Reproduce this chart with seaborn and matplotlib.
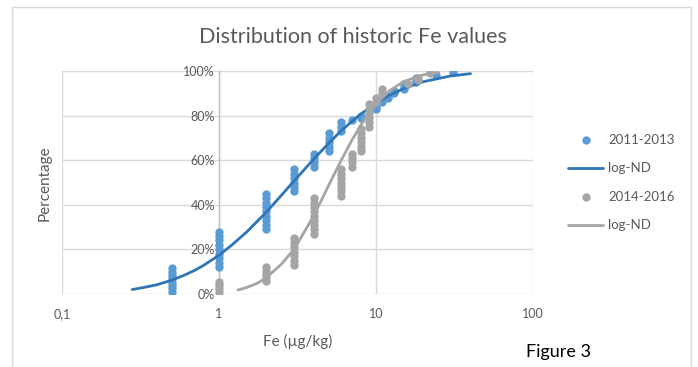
import matplotlib
matplotlib.use("Agg")
import matplotlib.pyplot as plt
import seaborn as sns
import pandas as pd
from matplotlib.patches import Rectangle

# measured values, 2011-2013 (Fe in ug/kg, cumulative %)
fe_1113 = ([0.5] * 8 + [1] * 9 + [2] * 9 + [3] * 6 + [4] * 4 + [5] * 5 + [6] * 3
           + [7] + [8] * 2 + [10] * 3 + [11] * 2 + [12] * 2 + [13] * 2 + [15] * 3
           + [18] * 3 + [24] + [31])
pct_1113 = [1, 2.5, 4, 5.5, 7, 8.5, 10, 11.5,
            12, 14, 16, 18, 20, 22, 24, 26, 28,
            29, 31, 33, 35, 37, 39, 41, 43, 45,
            46, 48, 50, 52, 54, 56,
            57, 59, 61, 63,
            64, 66, 68, 70, 72,
            73, 75, 77,
            78,
            79, 80,
            83, 84, 85,
            86, 87,
            88, 89,
            90, 91,
            92, 93, 94,
            95, 96, 97,
            98,
            99.5]

# measured values, 2014-2016
fe_1416 = ([1] * 4 + [2] * 5 + [3] * 7 + [4] * 9 + [6] * 7 + [7] * 4 + [8] * 6
           + [9] * 6 + [10] * 2 + [11] * 2 + [16] + [18.5] * 2 + [22])
pct_1416 = [1, 2.5, 4, 5.5,
            6, 7.5, 9, 10.5, 12,
            13, 15, 17, 19, 21, 23, 25,
            27, 29, 31, 33, 35, 37, 39, 41, 43,
            44, 46, 48, 50, 52, 54, 56,
            57, 59, 61, 63,
            64, 66, 68, 70, 72, 74,
            75, 77, 79, 81, 83, 85,
            86, 88,
            90, 92,
            94,
            96, 97,
            99]

# fitted log-normal curves
fit_x_1113 = [0.28, 0.33, 0.4, 0.5, 0.6, 0.7, 0.8, 1, 1.2, 1.5, 2, 2.5, 3, 4,
              5, 6, 7, 8, 10, 12, 15, 20, 30, 40]
fit_y_1113 = [2.0, 2.9, 4.1, 6.2, 8.4, 10.6, 12.9, 17.4, 21.8, 27.8, 36.7,
              44.3, 50.6, 60.4, 67.6, 73.2, 77.3, 80.7, 85.5, 88.9, 92.1,
              95.2, 97.8, 98.8]
fit_x_1416 = [1.32, 1.5, 1.75, 2, 2.5, 3, 3.5, 4, 4.5, 5, 6, 7, 8, 9, 10, 12,
              15, 20, 25]
fit_y_1416 = [1.8, 2.9, 4.8, 7.3, 13.4, 20, 27.9, 35, 42.2, 48.8, 59.9, 68.8,
              75.7, 81, 85.1, 90.8, 95.3, 98.3, 99.3]

x_ticks = [0.1, 1, 10, 100]
x_tick_labels = ["0,1", "1", "10", "100"]
y_ticks = [0, 20, 40, 60, 80, 100]

BLUE = "#5B9BD5"
BLUE_LINE = "#2E75B6"
GREY = "#A5A5A5"
TXT = "#595959"

sns.set_theme(style="white")
plt.rcParams["font.family"] = ["Lato", "DejaVu Sans"]

fig = plt.figure(figsize=(6.98, 3.67), dpi=100)
fig.patches.append(Rectangle((12 / 698, -0.05), 679 / 698, 1 - 7 / 367 + 0.05,
                             transform=fig.transFigure, fill=False,
                             edgecolor="#D9D9D9", lw=1, zorder=0))
ax = fig.add_axes([62 / 698, 73 / 367, 471 / 698, 223 / 367])

pts1 = pd.DataFrame({"fe": fe_1113, "pct": pct_1113})
pts2 = pd.DataFrame({"fe": fe_1416, "pct": pct_1416})
fit1 = pd.DataFrame({"fe": fit_x_1113, "pct": fit_y_1113})
fit2 = pd.DataFrame({"fe": fit_x_1416, "pct": fit_y_1416})

sns.scatterplot(data=pts1, x="fe", y="pct", color=BLUE, s=36, linewidth=0,
                ax=ax, label="2011-2013", zorder=3)
sns.lineplot(data=fit1, x="fe", y="pct", color=BLUE_LINE, lw=2, ax=ax,
             label="log-ND", zorder=4, sort=True)
sns.scatterplot(data=pts2, x="fe", y="pct", color=GREY, s=36, linewidth=0,
                ax=ax, label="2014-2016", zorder=5)
sns.lineplot(data=fit2, x="fe", y="pct", color=GREY, lw=2, ax=ax,
             label="log-ND", zorder=6, sort=True)

ax.set_xscale("log")
ax.set_xlim(0.1, 100)
ax.set_ylim(0, 100)
ax.set_xticks(x_ticks)
ax.set_xticklabels(x_tick_labels)
ax.minorticks_off()
ax.set_yticks(y_ticks)
ax.set_yticklabels([f"{v}%" for v in y_ticks])

for s in ["top", "right", "bottom"]:
    ax.spines[s].set_visible(False)
ax.spines["left"].set_position(("data", 1))
ax.spines["left"].set_color("#BFBFBF")
ax.spines["left"].set_linewidth(1)
ax.grid(True, color="#D9D9D9", lw=1)
ax.set_axisbelow(True)
ax.tick_params(axis="both", length=0, labelsize=9, labelcolor=TXT)
ax.tick_params(axis="x", pad=10)
ax.tick_params(axis="y", pad=3)

ax.set_xlabel("Fe (µg/kg)", fontsize=11, color=TXT, labelpad=10)
ax.set_ylabel("")
fig.text(45 / 698, 1 - 183 / 367, "Percentage", rotation=90, fontsize=11,
         color=TXT, ha="center", va="center")
fig.text(353 / 698, 1 - 37 / 367, "Distribution of historic Fe values",
         fontsize=15.5, color=TXT, ha="center", va="center")
fig.text(558 / 698, 1 - 352 / 367, "Figure 3", fontsize=13, color="black",
         ha="center", va="center")

ax.legend(loc="center left", bbox_to_anchor=(1.05, 0.5), frameon=False,
          fontsize=9.5, labelcolor=TXT, handlelength=2.6, labelspacing=1.25,
          handletextpad=0.4)

fig.savefig("out.png", dpi=100)
